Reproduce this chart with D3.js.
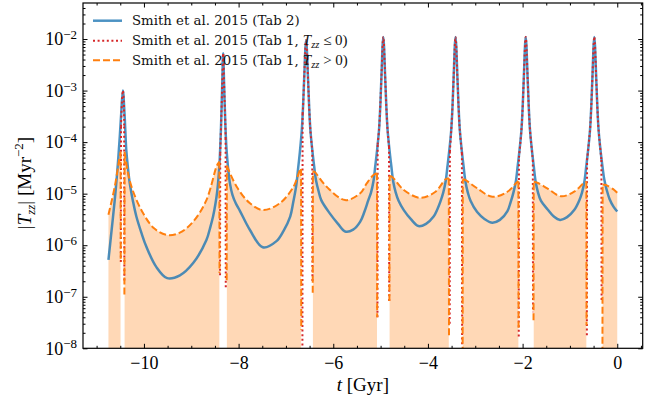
<!DOCTYPE html>
<html>
<head>
<meta charset="utf-8">
<script src="https://cdn.jsdelivr.net/npm/d3@7"></script>
<style>
  body { margin: 0; background: #fff; }
  svg { display: block; }
</style>
</head>
<body>
<div id="chart"></div>
<script>
// |T_zz| [Myr^-2] against t [Gyr]
const tab2 = [
  [-10.75, 5.2e-7], [-10.70, 1.4e-6], [-10.66, 3.1e-6], [-10.60, 1.1e-5], [-10.55, 3.9e-5], [-10.51, 1.3e-4], [-10.48, 3.6e-4], [-10.445, 1.0e-3],
  [-10.41, 3.5e-4], [-10.373, 7.0e-5], [-10.34, 3.3e-5], [-10.30, 1.6e-5], [-10.23, 7.0e-6], [-10.16, 3.6e-6], [-10.05, 1.7e-6], [-9.95, 9.4e-7], [-9.74, 3.8e-7], [-9.51, 2.3e-7], [-9.24, 2.6e-7], [-8.96, 4.5e-7], [-8.68, 1.26e-6], [-8.60, 2.2e-6], [-8.54, 3.6e-6], [-8.49, 6.3e-6], [-8.45, 1.15e-5], [-8.425, 2.0e-5], [-8.40, 4.5e-5], [-8.37, 2.2e-4], [-8.345, 1.4e-3], [-8.326, 5.3e-3],
  [-8.307, 1.4e-3], [-8.28, 2.2e-4], [-8.254, 7.0e-5], [-8.22, 3.0e-5], [-8.184, 1.6e-5], [-8.13, 9.5e-6], [-8.06, 6.5e-6], [-7.97, 4.6e-6], [-7.76, 1.97e-6], [-7.49, 9.1e-7], [-7.20, 1.2e-6], [-7.05, 1.9e-6], [-6.91, 3.6e-6], [-6.85, 6.5e-6], [-6.784, 1.4e-5], [-6.744, 3.0e-5], [-6.705, 6.5e-5], [-6.665, 1.7e-4], [-6.639, 4.7e-4], [-6.616, 1.6e-3], [-6.574, 9.5e-3],
  [-6.532, 1.6e-3], [-6.509, 4.7e-4], [-6.483, 1.7e-4], [-6.443, 7.0e-5], [-6.404, 3.4e-5], [-6.364, 1.8e-5], [-6.314, 1.15e-5], [-6.254, 7.5e-6], [-6.07, 4.1e-6], [-5.90, 2.6e-6], [-5.75, 1.85e-6], [-5.58, 2.0e-6], [-5.43, 2.86e-6], [-5.34, 4.5e-6], [-5.263, 7.3e-6], [-5.203, 1.05e-5], [-5.153, 1.7e-5], [-5.113, 3.4e-5], [-5.074, 7.0e-5], [-5.034, 1.7e-4], [-5.008, 4.7e-4], [-4.985, 1.6e-3], [-4.943, 1.1e-2],
  [-4.901, 1.6e-3], [-4.878, 4.7e-4], [-4.852, 1.7e-4], [-4.812, 7.0e-5], [-4.773, 3.4e-5], [-4.733, 1.7e-5], [-4.68, 1.05e-5], [-4.62, 7.3e-6], [-4.51, 4.8e-6], [-4.36, 3.2e-6], [-4.20, 2.35e-6], [-4.04, 2.6e-6], [-3.88, 3.6e-6], [-3.80, 5.0e-6], [-3.737, 7.0e-6], [-3.677, 1.05e-5], [-3.627, 1.7e-5], [-3.587, 3.4e-5], [-3.548, 7.0e-5], [-3.508, 1.7e-4], [-3.482, 4.7e-4], [-3.459, 1.6e-3], [-3.417, 1.1e-2],
  [-3.375, 1.6e-3], [-3.352, 4.7e-4], [-3.326, 1.7e-4], [-3.286, 7.0e-5], [-3.247, 3.4e-5], [-3.207, 1.7e-5], [-3.157, 1.05e-5], [-3.10, 7.3e-6], [-2.96, 4.4e-6], [-2.80, 3.2e-6], [-2.64, 2.73e-6], [-2.48, 3.1e-6], [-2.32, 4.6e-6], [-2.254, 6.8e-6], [-2.194, 1.05e-5], [-2.144, 1.7e-5], [-2.104, 3.4e-5], [-2.065, 7.0e-5], [-2.025, 1.7e-4], [-1.999, 4.7e-4], [-1.976, 1.6e-3], [-1.934, 1.1e-2],
  [-1.892, 1.6e-3], [-1.869, 4.7e-4], [-1.843, 1.7e-4], [-1.803, 7.0e-5], [-1.764, 3.4e-5], [-1.724, 1.7e-5], [-1.674, 1.05e-5], [-1.614, 7.3e-6], [-1.475, 5.0e-6], [-1.34, 3.6e-6], [-1.21, 3.1e-6], [-1.06, 3.5e-6], [-0.91, 4.8e-6], [-0.805, 7.3e-6], [-0.745, 1.05e-5], [-0.695, 1.7e-5], [-0.655, 3.4e-5], [-0.616, 7.0e-5], [-0.576, 1.7e-4], [-0.55, 4.7e-4], [-0.527, 1.6e-3], [-0.485, 1.1e-2],
  [-0.443, 1.6e-3], [-0.42, 4.7e-4], [-0.394, 1.7e-4], [-0.354, 7.0e-5], [-0.315, 3.5e-5], [-0.275, 1.9e-5], [-0.225, 1.2e-5], [-0.165, 8.0e-6], [-0.08, 5.6e-6], [0, 4.5e-6]
];

// Tab 1, T_zz <= 0 (plotted as |T_zz|), one piece per pericentre;
// first and last points are where the curve falls through zero
const tab1Neg = [
  [[-10.488, 4.7e-7], [-10.484, 2.0e-4], [-10.465, 6.0e-4], [-10.445, 1.0e-3], [-10.425, 6.0e-4], [-10.418, 2.0e-4], [-10.414, 1.85e-7]],
  [[-8.392, 2.6e-7], [-8.388, 6.0e-5], [-8.37, 2.2e-4], [-8.345, 1.4e-3], [-8.326, 5.3e-3], [-8.307, 1.4e-3], [-8.28, 2.2e-4], [-8.275, 1.2e-4], [-8.271, 1.5e-7]],
  [[-6.652, 5e-9], [-6.648, 3.5e-4], [-6.639, 4.7e-4], [-6.616, 1.6e-3], [-6.574, 9.5e-3], [-6.532, 1.6e-3], [-6.509, 4.7e-4], [-6.483, 1.7e-4], [-6.444, 7.0e-5], [-6.440, 1.9e-7]],
  [[-5.066, 4.0e-8], [-5.062, 9.0e-5], [-5.034, 1.7e-4], [-5.008, 4.7e-4], [-4.985, 1.6e-3], [-4.943, 1.1e-2], [-4.901, 1.6e-3], [-4.878, 4.7e-4], [-4.852, 1.7e-4], [-4.822, 8.0e-5], [-4.818, 8.0e-8]],
  [[-3.540, 3.0e-8], [-3.536, 6.5e-5], [-3.508, 1.7e-4], [-3.482, 4.7e-4], [-3.459, 1.6e-3], [-3.417, 1.1e-2], [-3.375, 1.6e-3], [-3.352, 4.7e-4], [-3.326, 1.7e-4], [-3.282, 6.0e-5], [-3.278, 1.2e-8]],
  [[-2.081, 1.7e-8], [-2.077, 5.0e-5], [-2.025, 1.7e-4], [-1.999, 4.7e-4], [-1.976, 1.6e-3], [-1.934, 1.1e-2], [-1.892, 1.6e-3], [-1.869, 4.7e-4], [-1.843, 1.7e-4], [-1.784, 4.5e-5], [-1.780, 5.0e-8]],
  [[-0.642, 1.8e-8], [-0.638, 4.5e-5], [-0.576, 1.7e-4], [-0.55, 4.7e-4], [-0.527, 1.6e-3], [-0.485, 1.1e-2], [-0.443, 1.6e-3], [-0.42, 4.7e-4], [-0.394, 1.7e-4], [-0.335, 4.5e-5], [-0.331, 8.6e-8]]
];

// Tab 1, T_zz > 0, one piece between pericentres
const tab1Pos = [
  [[-10.75, 3.9e-6], [-10.617, 1.36e-5], [-10.53, 4.2e-5], [-10.494, 6.5e-5], [-10.490, 4.7e-7]],
  [[-10.413, 1.1e-7], [-10.409, 6.5e-5], [-10.34, 2.6e-5], [-10.24, 1.18e-5], [-10.02, 4.2e-6], [-9.78, 2.1e-6], [-9.51, 1.58e-6], [-9.24, 1.75e-6], [-8.96, 2.86e-6], [-8.68, 7.5e-6], [-8.47, 3.3e-5], [-8.43, 3.9e-5], [-8.407, 4.2e-5], [-8.403, 2.9e-7]],
  [[-8.252, 2.1e-7], [-8.248, 3.5e-5], [-8.04, 1.36e-5], [-7.76, 6.5e-6], [-7.48, 4.8e-6], [-7.13, 6.5e-6], [-6.84, 1.36e-5], [-6.70, 2.9e-5], [-6.68, 3.0e-5], [-6.676, 2.3e-8]],
  [[-6.434, 1.2e-7], [-6.430, 2.7e-5], [-6.40, 2.67e-5], [-6.14, 1.36e-5], [-5.75, 7.5e-6], [-5.43, 1.02e-5], [-5.29, 1.6e-5], [-5.15, 2.3e-5], [-5.076, 2.5e-5], [-5.072, 4.0e-8]],
  [[-4.814, 8.3e-8], [-4.810, 2.2e-5], [-4.76, 2.13e-5], [-4.51, 1.18e-5], [-4.16, 8.3e-6], [-3.84, 1.09e-5], [-3.63, 1.9e-5], [-3.559, 2.0e-5], [-3.555, 1.65e-8]],
  [[-3.267, 5e-9], [-3.263, 1.9e-5], [-3.21, 1.84e-5], [-2.96, 1.27e-5], [-2.64, 8.7e-6], [-2.32, 1.09e-5], [-2.11, 1.7e-5], [-2.089, 1.75e-5], [-2.085, 2.5e-8]],
  [[-1.769, 3.5e-8], [-1.765, 1.7e-5], [-1.69, 1.63e-5], [-1.48, 1.27e-5], [-1.19, 8.9e-6], [-0.91, 1.09e-5], [-0.71, 1.6e-5], [-0.653, 1.7e-5], [-0.649, 2.8e-8]],
  [[-0.313, 5e-9], [-0.309, 1.5e-5], [-0.24, 1.47e-5], [-0.064, 1.18e-5], [0, 1.04e-5]]
];

const xTicks = [-10, -8, -6, -4, -2, 0];
const yTicks = [1e-8, 1e-7, 1e-6, 1e-5, 1e-4, 1e-3, 1e-2];
const legendText = ['Smith et al. 2015 (Tab 2)', 'Smith et al. 2015 (Tab 1, ', 'Smith et al. 2015 (Tab 1, '];
const legendTail = ['', ' \u2264 0)', ' > 0)'];

const width = 662;
const height = 399;
const plot = {left: 83, right: 642.7, top: 3, bottom: 348.3};
const mathFont = 'Liberation Serif';
const textFont = 'DejaVu Serif';
const redDash = '2,2.6';
const orangeDash = '7,3';

const x = d3.scaleLinear()
  .domain([-11.2875, 0.5375])
  .range([plot.left, plot.right]);

const y = d3.scaleLog()
  .domain([1e-8, 0.05])
  .range([plot.bottom, plot.top]);

const svg = d3.select('#chart')
  .append('svg')
  .attr('width', width)
  .attr('height', height);

svg.append('defs').append('clipPath')
  .attr('id', 'clip')
  .append('rect')
  .attr('x', plot.left)
  .attr('y', plot.top)
  .attr('width', plot.right - plot.left)
  .attr('height', plot.bottom - plot.top);

const smooth = d3.curveCatmullRom.alpha(0.5);

const line = d3.line()
  .x(d => x(d[0]))
  .y(d => y(d[1]))
  .curve(smooth);

// a piece = smooth body plus straight falls at the zero crossings
const pieceLine = p => {
  const ends = [];
  const body = p.slice();
  if (p[0][1] < 1e-6) { ends.push([p[0], p[1]]); body.shift(); }
  if (p[p.length - 1][1] < 1e-6) { ends.push([p[p.length - 2], p[p.length - 1]]); body.pop(); }
  const straight = d3.line().x(d => x(d[0])).y(d => y(d[1]));
  return line(body) + ends.map(straight).join('');
};

const pieceBody = p => p.filter((d, i) => !((i === 0 || i === p.length - 1) && d[1] < 1e-6));

const area = d3.area()
  .x(d => x(d[0]))
  .y0(plot.bottom + 5)
  .y1(d => y(d[1]))
  .curve(smooth);

const marks = svg.append('g').attr('clip-path', 'url(#clip)');

marks.selectAll('path.fill')
  .data(tab1Pos)
  .enter().append('path')
    .attr('class', 'fill')
    .attr('d', d => area(pieceBody(d)))
    .style('fill', '#ff7f0e')
    .style('fill-opacity', 0.3)
    .style('stroke', 'none');

marks.append('path')
  .datum(tab2)
  .attr('d', line)
  .style('fill', 'none')
  .style('stroke', '#1f77b4')
  .style('stroke-opacity', 0.8)
  .style('stroke-width', 2.5);

marks.selectAll('path.neg')
  .data(tab1Neg)
  .enter().append('path')
    .attr('class', 'neg')
    .attr('d', pieceLine)
    .style('fill', 'none')
    .style('stroke', '#d62728')
    .style('stroke-width', 2)
    .style('stroke-dasharray', redDash);

marks.selectAll('path.pos')
  .data(tab1Pos)
  .enter().append('path')
    .attr('class', 'pos')
    .attr('d', pieceLine)
    .style('fill', 'none')
    .style('stroke', '#ff7f0e')
    .style('stroke-width', 2)
    .style('stroke-dasharray', orangeDash);

// axes, ticks pointing inwards on all four sides
const minorX = d3.range(-11, 0.51, 0.5).filter(d => d % 2 !== 0);
const minorY = [];
yTicks.forEach(base => {
  d3.range(2, 10).forEach(k => { if (k * base < 0.05) minorY.push(k * base); });
});

const styleAxis = g => {
  g.select('.domain').remove();
  g.attr('color', '#000')
    .attr('font-family', mathFont)
    .attr('font-size', 18);
  g.selectAll('.tick line').attr('stroke-width', 1);
};

const signed = d => d < 0 ? '\u2212' + Math.abs(d) : String(d);

svg.append('g')
  .attr('transform', `translate(0,${plot.bottom})`)
  .call(d3.axisBottom(x).tickValues(xTicks).tickSize(-4.5).tickSizeOuter(0).tickPadding(8).tickFormat(signed))
  .call(styleAxis);

svg.append('g')
  .attr('transform', `translate(0,${plot.bottom})`)
  .call(d3.axisBottom(x).tickValues(minorX).tickSize(-2.5).tickSizeOuter(0).tickFormat(''))
  .call(styleAxis);

svg.append('g')
  .attr('transform', `translate(0,${plot.top})`)
  .call(d3.axisTop(x).tickValues(xTicks).tickSize(-4.5).tickSizeOuter(0).tickFormat(''))
  .call(styleAxis);

svg.append('g')
  .attr('transform', `translate(0,${plot.top})`)
  .call(d3.axisTop(x).tickValues(minorX).tickSize(-2.5).tickSizeOuter(0).tickFormat(''))
  .call(styleAxis);

svg.append('g')
  .attr('transform', `translate(${plot.left},0)`)
  .call(d3.axisLeft(y).tickValues(yTicks).tickSize(-4.5).tickSizeOuter(0).tickPadding(6))
  .call(styleAxis)
  .call(g => g.selectAll('.tick text')
    .text(null)
    .each(function(d) {
      const t = d3.select(this);
      t.append('tspan').text('10');
      t.append('tspan')
        .attr('dy', '-0.48em')
        .attr('font-size', '0.72em')
        .text('\u2212' + Math.abs(Math.round(Math.log10(d))));
    }));

svg.append('g')
  .attr('transform', `translate(${plot.left},0)`)
  .call(d3.axisLeft(y).tickValues(minorY).tickSize(-2.5).tickSizeOuter(0).tickFormat(''))
  .call(styleAxis);

svg.append('g')
  .attr('transform', `translate(${plot.right},0)`)
  .call(d3.axisRight(y).tickValues(yTicks).tickSize(-4.5).tickSizeOuter(0).tickFormat(''))
  .call(styleAxis);

svg.append('g')
  .attr('transform', `translate(${plot.right},0)`)
  .call(d3.axisRight(y).tickValues(minorY).tickSize(-2.5).tickSizeOuter(0).tickFormat(''))
  .call(styleAxis);

svg.append('rect')
  .attr('x', plot.left)
  .attr('y', plot.top)
  .attr('width', plot.right - plot.left)
  .attr('height', plot.bottom - plot.top)
  .style('fill', 'none')
  .style('stroke', '#000')
  .style('stroke-width', 1.2);

// axis labels
const xLabel = svg.append('text')
  .attr('x', (plot.left + plot.right) / 2)
  .attr('y', 391)
  .attr('text-anchor', 'middle')
  .attr('font-family', mathFont)
  .attr('font-size', 19);
xLabel.append('tspan').attr('font-style', 'italic').text('t');
xLabel.append('tspan').text(' [Gyr]');

const yLabel = svg.append('text')
  .attr('transform', `translate(31,183) rotate(-90)`)
  .attr('text-anchor', 'middle')
  .attr('font-family', mathFont)
  .attr('font-size', 19);
yLabel.append('tspan').text('|');
yLabel.append('tspan').attr('font-style', 'italic').text('T');
yLabel.append('tspan').attr('font-style', 'italic').attr('font-size', 13).attr('dy', 4).text('zz');
yLabel.append('tspan').attr('dy', -4).text('| [Myr');
yLabel.append('tspan').attr('font-size', 13).attr('dy', -8).text('\u22122');
yLabel.append('tspan').attr('dy', 8).text(']');

// legend
const legendRows = [
  {y: 20.7, color: '#1f77b4', opacity: 0.8, w: 2.5, dash: null},
  {y: 40.7, color: '#d62728', opacity: 1, w: 2, dash: redDash},
  {y: 60.2, color: '#ff7f0e', opacity: 1, w: 2, dash: orangeDash}
];

const legend = svg.append('g').attr('class', 'legend');

legendRows.forEach((r, i) => {
  legend.append('line')
    .attr('x1', 93).attr('x2', 122)
    .attr('y1', r.y).attr('y2', r.y)
    .style('stroke', r.color)
    .style('stroke-opacity', r.opacity)
    .style('stroke-width', r.w)
    .style('stroke-dasharray', r.dash);

  const txt = legend.append('text')
    .attr('x', 132)
    .attr('y', r.y + 4.6)
    .attr('font-family', textFont)
    .attr('font-size', 13.3)
    .style('fill', '#111');
  txt.append('tspan').text(legendText[i]);
  if (i > 0) {
    txt.append('tspan').attr('font-family', mathFont).attr('font-style', 'italic').attr('font-size', 15).text('T');
    txt.append('tspan').attr('font-family', mathFont).attr('font-style', 'italic').attr('font-size', 10.5).attr('dy', 3).text('zz');
    txt.append('tspan').attr('font-family', mathFont).attr('font-size', 15).attr('dy', -3).text(legendTail[i]);
  }
});
</script>
</body>
</html>
